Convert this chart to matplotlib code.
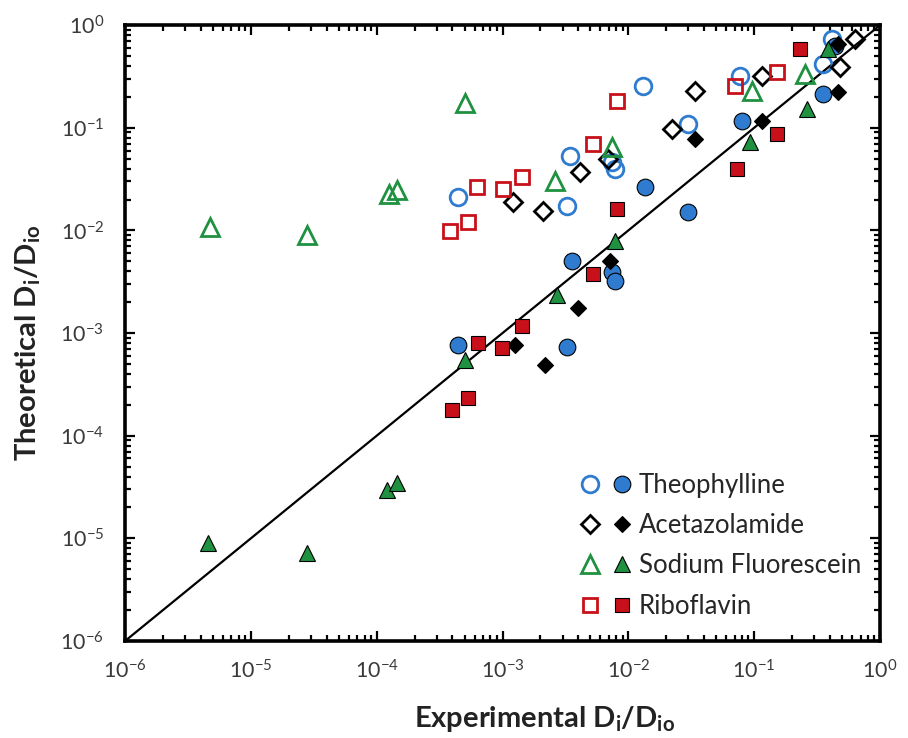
import matplotlib
matplotlib.use("Agg")
import matplotlib.pyplot as plt
from matplotlib.legend_handler import HandlerTuple
from matplotlib.ticker import LogLocator, FixedLocator

plt.rcParams['font.family'] = ['Lato', 'DejaVu Sans']
plt.rcParams['mathtext.default'] = 'regular'

# Theophylline
theo_open_x = [4.44e-4, 3.44e-3, 3.27e-3, 7.43e-3, 7.85e-3, 0.0131, 0.0299, 0.0774, 0.353, 0.417]
theo_open_y = [0.021, 0.0527, 0.0171, 0.046, 0.0394, 0.254, 0.108, 0.318, 0.417, 0.730]
theo_fill_x = [4.44e-4, 3.57e-3, 7.43e-3, 7.85e-3, 3.27e-3, 0.0136, 0.0299, 0.0803, 0.353, 0.441]
theo_fill_y = [7.73e-4, 4.99e-3, 3.89e-3, 3.18e-3, 7.38e-4, 0.0263, 0.0150, 0.1157, 0.212, 0.624]

# Acetazolamide
acet_open_x = [2.10e-3, 1.21e-3, 4.14e-3, 6.90e-3, 0.0223, 0.0340, 0.116, 0.483, 0.635]
acet_open_y = [0.0153, 0.0188, 0.0368, 0.0493, 0.0967, 0.227, 0.318, 0.389, 0.730]
acet_fill_x = [1.26e-3, 2.18e-3, 3.99e-3, 7.16e-3, 0.0340, 0.116, 0.466, 0.466]
acet_fill_y = [7.73e-4, 4.93e-4, 1.77e-3, 4.99e-3, 0.0772, 0.1157, 0.222, 0.653]

# Sodium Fluorescein
sf_open_x = [4.74e-6, 2.80e-5, 1.26e-4, 1.45e-4, 5.05e-4, 2.62e-3, 7.43e-3, 0.0964, 0.254]
sf_open_y = [0.0109, 8.93e-3, 0.0225, 0.0246, 0.173, 0.0301, 0.0645, 0.227, 0.333]
sf_fill_x = [4.57e-6, 2.80e-5, 1.21e-4, 1.45e-4, 5.05e-4, 2.72e-3, 7.85e-3, 0.0929, 0.264, 0.387]
sf_fill_y = [9.04e-6, 7.22e-6, 2.97e-5, 3.48e-5, 5.51e-4, 2.37e-3, 7.81e-3, 0.0722, 0.151, 0.583]

# Riboflavin
ribo_open_x = [3.83e-4, 5.33e-4, 6.28e-4, 1.01e-3, 1.43e-3, 5.25e-3, 8.15e-3, 0.0706, 0.152]
ribo_open_y = [9.78e-3, 0.0120, 0.0263, 0.0251, 0.0329, 0.069, 0.181, 0.254, 0.348]
ribo_fill_x = [3.97e-4, 5.33e-4, 6.40e-4, 9.93e-4, 1.43e-3, 5.25e-3, 8.15e-3, 0.0733, 0.152, 0.232]
ribo_fill_y = [1.79e-4, 2.35e-4, 8.07e-4, 7.22e-4, 1.16e-3, 3.72e-3, 0.0160, 0.0394, 0.0864, 0.583]

names = ['Theophylline', 'Acetazolamide', 'Sodium Fluorescein', 'Riboflavin']
blue = '#2e7bcf'
green = '#1f9140'
red = '#c8101a'

fig = plt.figure(figsize=(9.08, 7.38), dpi=100)
ax = fig.add_axes([0.1377, 0.1314, 0.8315, 0.8346])

ax.plot([1e-6, 1], [1e-6, 1], color='black', lw=1.6, zorder=1)

ms = 12
ew = 2.0
h_theo_o, = ax.plot(theo_open_x, theo_open_y, 'o', ms=ms, mfc='none', mec=blue, mew=ew, ls='none')
h_acet_o, = ax.plot(acet_open_x, acet_open_y, 'D', ms=ms - 2.5, mfc='none', mec='black', mew=ew, ls='none')
h_sf_o, = ax.plot(sf_open_x, sf_open_y, '^', ms=ms + 1, mfc='none', mec=green, mew=ew, ls='none')
h_ribo_o, = ax.plot(ribo_open_x, ribo_open_y, 's', ms=ms - 1.5, mfc='none', mec=red, mew=ew, ls='none')

h_theo_f, = ax.plot(theo_fill_x, theo_fill_y, 'o', ms=ms, mfc=blue, mec='black', mew=0.8, ls='none')
h_acet_f, = ax.plot(acet_fill_x, acet_fill_y, 'D', ms=ms - 4, mfc='black', mec='black', mew=0.8, ls='none')
h_sf_f, = ax.plot(sf_fill_x, sf_fill_y, '^', ms=ms, mfc=green, mec='black', mew=0.8, ls='none')
h_ribo_f, = ax.plot(ribo_fill_x, ribo_fill_y, 's', ms=ms - 1.5, mfc=red, mec='black', mew=0.8, ls='none')

ax.set_xscale('log')
ax.set_yscale('log')
ax.set_xlim(1e-6, 1)
ax.set_ylim(1e-6, 1)

decades = [1e-6, 1e-5, 1e-4, 1e-3, 1e-2, 1e-1, 1e0]
tick_labels = ['10$^{-6}$', '10$^{-5}$', '10$^{-4}$', '10$^{-3}$', '10$^{-2}$', '10$^{-1}$', '10$^{0}$']
ax.xaxis.set_major_locator(FixedLocator(decades))
ax.yaxis.set_major_locator(FixedLocator(decades))
ax.set_xticklabels(tick_labels)
ax.set_yticklabels(tick_labels)
ax.xaxis.set_minor_locator(LogLocator(base=10, subs=range(2, 10), numticks=20))
ax.yaxis.set_minor_locator(LogLocator(base=10, subs=range(2, 10), numticks=20))
ax.xaxis.set_minor_formatter(plt.NullFormatter())
ax.yaxis.set_minor_formatter(plt.NullFormatter())

ax.tick_params(which='both', direction='in', top=True, right=True, width=1.6, colors='black')
ax.tick_params(which='major', length=7)
ax.tick_params(which='minor', length=4)
ax.tick_params(axis='x', which='major', pad=13, labelsize=15.5, labelcolor='#3a3a3a')
ax.tick_params(axis='y', which='major', pad=15, labelsize=15.5, labelcolor='#3a3a3a')
for sp in ax.spines.values():
    sp.set_linewidth(2.6)

ax.set_xlabel('Experimental D$_{i}$/D$_{io}$', fontsize=21, fontweight='bold', color='#222222')
ax.set_ylabel('Theoretical D$_{i}$/D$_{io}$', fontsize=21, fontweight='bold', color='#222222')
ax.xaxis.set_label_coords(0.556, -0.102)
ax.yaxis.set_label_coords(-0.108, 0.485)

leg = ax.legend([(h_theo_o, h_theo_f), (h_acet_o, h_acet_f), (h_sf_o, h_sf_f), (h_ribo_o, h_ribo_f)],
                names, handler_map={tuple: HandlerTuple(ndivide=None, pad=0.45)},
                loc='lower left', frameon=False, fontsize=18.5, handlelength=2.0,
                labelspacing=0.6, handletextpad=0.28, borderpad=0, borderaxespad=0,
                bbox_to_anchor=(0.603, 0.036))
for t in leg.get_texts():
    t.set_color('#262626')

fig.savefig('out.png', dpi=100)
